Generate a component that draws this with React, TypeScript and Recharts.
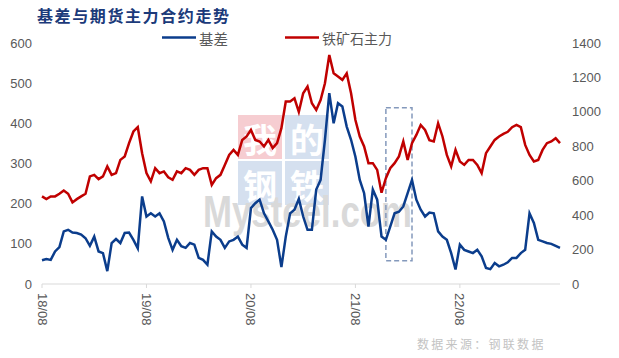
import { LineChart, Line, XAxis, YAxis, ReferenceArea } from "recharts";

// half-monthly points, 2018-08-01 .. 2023-07-16
const dates: string[] = [];
for (let i = 0; i < 120; i++) {
  const m = 7 + Math.floor(i / 2);
  const yr = 2018 + Math.floor(m / 12);
  const mm = String((m % 12) + 1).padStart(2, "0");
  dates.push(`${yr}-${mm}-${i % 2 ? "16" : "01"}`);
}

const basis = [
  59, 62, 60, 81, 92, 131, 135, 128, 127, 123, 114, 95, 118, 81, 77, 32, 102, 112, 102, 127,
  128, 110, 89, 218, 168, 176, 168, 176, 156, 115, 85, 110, 94, 90, 102, 98, 65, 60, 48, 131,
  118, 110, 90, 106, 110, 118, 98, 90, 189, 201, 210, 176, 156, 135, 110, 42, 118, 176, 185, 212,
  168, 135, 135, 235, 259, 359, 475, 400, 450, 442, 392, 359, 317, 259, 226, 143, 235, 210, 118, 110,
  143, 176, 180, 193, 226, 259, 210, 185, 168, 178, 176, 131, 118, 110, 77, 36, 98, 85, 81, 77,
  85, 69, 40, 37, 52, 44, 48, 54, 65, 65, 77, 85, 176, 152, 110, 106, 102, 100, 95, 90,
];

const ironOre = [
  509, 493, 509, 509, 524, 543, 524, 474, 493, 509, 524, 625, 634, 609, 625, 683, 634, 644, 721, 741,
  818, 886, 911, 760, 644, 596, 673, 644, 654, 620, 605, 654, 644, 673, 663, 634, 663, 673, 673, 576,
  615, 634, 692, 750, 779, 750, 837, 857, 895, 837, 828, 799, 837, 789, 818, 905, 1060, 1060, 1079, 1000,
  1108, 1147, 1050, 1011, 1069, 1166, 1330, 1224, 1205, 1186, 1224, 1108, 953, 857, 799, 702, 702, 663, 530, 615,
  673, 702, 741, 828, 721, 818, 866, 924, 895, 835, 828, 934, 857, 750, 683, 779, 712, 692, 721, 721,
  692, 644, 760, 799, 837, 857, 872, 884, 911, 924, 911, 808, 750, 712, 721, 779, 818, 828, 847, 818,
];

const xTicks = ["2018-08-01", "2019-08-01", "2020-08-01", "2021-08-01", "2022-08-01"];
const leftTicks = [0, 100, 200, 300, 400, 500, 600];
const rightTicks = [0, 200, 400, 600, 800, 1000, 1200, 1400];

const data = dates.map((d, i) => ({ date: d, basis: basis[i], ore: ironOre[i] }));

const BLUE = "#0B3D8C";
const RED = "#C00000";
const GREY = "#595959";
const NUM_FONT = "'Liberation Sans', Arial, sans-serif";
const CJK_FONT = "'Noto Sans CJK SC', sans-serif";

const fmt = (d: string) => `${d.slice(2, 4)}/${d.slice(5, 7)}`;

const DateTick = (props: any) => {
  const { x, y, payload } = props;
  return (
    <text
      x={0}
      y={0}
      transform={`translate(${x},${y + 3}) rotate(90)`}
      textAnchor="start"
      dominantBaseline="central"
      fill={GREY}
      fontSize={13}
      fontFamily={NUM_FONT}
    >
      {fmt(payload.value)}
    </text>
  );
};

function Backdrop() {
  const boxes = [
    { x: 238, y: 115, c: "#f6cdd1", t: "我" },
    { x: 285, y: 115, c: "#d5e0ef", t: "的" },
    { x: 238, y: 161, c: "#d5e0ef", t: "钢" },
    { x: 285, y: 161, c: "#d5e0ef", t: "铁" },
  ];
  return (
    <svg width={619} height={358} style={{ position: "absolute", left: 0, top: 0 }}>
      {boxes.map((b) => (
        <g key={b.t}>
          <rect x={b.x} y={b.y} width={44} height={44} fill={b.c} />
          <text
            x={b.x + 22}
            y={b.y + 23}
            textAnchor="middle"
            dominantBaseline="central"
            fill="#fff"
            fontSize={34}
            fontWeight="bold"
            fontFamily={CJK_FONT}
          >
            {b.t}
          </text>
        </g>
      ))}
      <text
        x={203}
        y={227}
        fill="#d9d9d9"
        fontSize={45}
        fontWeight="bold"
        fontFamily={NUM_FONT}
        textLength={209}
        lengthAdjust="spacingAndGlyphs"
      >
        Mysteel.com
      </text>

      <text x={37} y={15} dominantBaseline="central" fill="#1B3A7A" fontSize={16} fontWeight="bold" letterSpacing={1.6} fontFamily={CJK_FONT}>
        基差与期货主力合约走势
      </text>

      <line x1={162} y1={37.5} x2={196} y2={37.5} stroke={BLUE} strokeWidth={2.5} />
      <text x={199} y={38} dominantBaseline="central" fill={GREY} fontSize={14.5} fontFamily={CJK_FONT}>
        基差
      </text>
      <line x1={285} y1={37.5} x2={319} y2={37.5} stroke={RED} strokeWidth={2.5} />
      <text x={322} y={38} dominantBaseline="central" fill={GREY} fontSize={14} fontFamily={CJK_FONT}>
        铁矿石主力
      </text>

      <text x={417} y={343} dominantBaseline="central" fill="#c3c3c3" fontSize={12} letterSpacing={2.3} fontFamily={CJK_FONT}>
        数据来源：钢联数据
      </text>
    </svg>
  );
}

export default function App() {
  return (
    <div style={{ position: "absolute", left: 0, top: 0, width: 619, height: 358, background: "#fff" }}>
      <Backdrop />
      <div style={{ position: "absolute", left: 0, top: 0 }}>
        <LineChart width={619} height={358} data={data} margin={{ top: 43, right: 0, bottom: 0, left: 0 }}>
          <XAxis
            dataKey="date"
            ticks={xTicks}
            interval={0}
            height={74}
            tick={<DateTick />}
            tickSize={4}
            axisLine={{ stroke: "#d9d9d9" }}
            tickLine={{ stroke: "#d9d9d9" }}
          />
          <YAxis
            yAxisId="left"
            width={42}
            domain={[0, 600]}
            ticks={leftTicks}
            axisLine={false}
            tickLine={false}
            tickSize={6}
            tickMargin={4}
            tick={{ fill: GREY, fontSize: 13, fontFamily: NUM_FONT }}
          />
          <YAxis
            yAxisId="right"
            orientation="right"
            width={59}
            domain={[0, 1400]}
            ticks={rightTicks}
            axisLine={false}
            tickLine={false}
            tickSize={6}
            tickMargin={6}
            tick={{ fill: GREY, fontSize: 13, fontFamily: NUM_FONT, textAnchor: "start" }}
          />
          <ReferenceArea
            yAxisId="left"
            x1="2021-11-16"
            x2="2022-02-16"
            y1={58}
            y2={439}
            fill="none"
            stroke="#8499BC"
            strokeWidth={1.5}
            strokeDasharray="5 3"
          />
          <Line
            yAxisId="right"
            dataKey="ore"
            stroke={RED}
            strokeWidth={2.5}
            dot={false}
            isAnimationActive={false}
          />
          <Line
            yAxisId="left"
            dataKey="basis"
            stroke={BLUE}
            strokeWidth={2.5}
            dot={false}
            isAnimationActive={false}
          />
        </LineChart>
      </div>
    </div>
  );
}
